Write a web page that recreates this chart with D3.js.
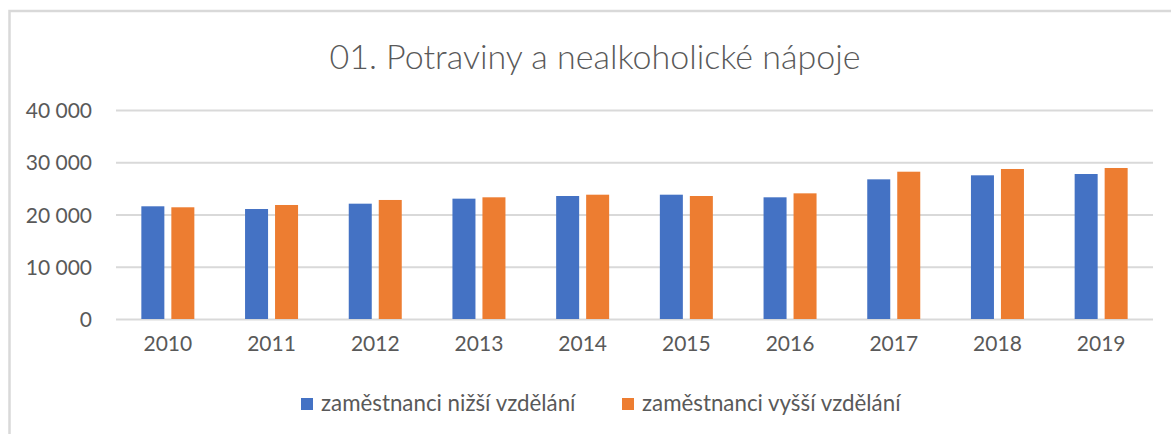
<!DOCTYPE html>
<html>
<head>
<meta charset="utf-8">
<script src="https://cdn.jsdelivr.net/npm/d3@7"></script>
<style>
  html, body { margin: 0; padding: 0; background: #fff; }
  text { font-family: Lato, "Liberation Sans", sans-serif; fill: #595959; }
</style>
</head>
<body>
<div id="chart"></div>
<script>
const title = '01. Potraviny a nealkoholické nápoje';
const years = ['2010', '2011', '2012', '2013', '2014', '2015', '2016', '2017', '2018', '2019'];
const seriesNames = ['zaměstnanci nižší vzdělání', 'zaměstnanci vyšší vzdělání'];
const lowerEdu = [21570, 21050, 22070, 23030, 23540, 23790, 23290, 26730, 27500, 27750];
const higherEdu = [21380, 21820, 22780, 23290, 23790, 23540, 24050, 28190, 28710, 28900];
const yTicks = [0, 10000, 20000, 30000, 40000];

const COLORS = ['#4472C4', '#ED7D31'];

const width = 1171;
const height = 434;
const plot = { left: 116, right: 1153, top: 110, bottom: 319 };

const czLocale = d3.formatLocale({ decimal: ',', thousands: '\u00a0', grouping: [3], currency: ['', ' Kč'] });
const fmt = czLocale.format(',d');

const svg = d3.select('#chart')
  .append('svg')
  .attr('width', width)
  .attr('height', height);

// chart frame (runs past the right and bottom edge of the shot)
svg.append('rect')
  .attr('x', 9.5)
  .attr('y', 11)
  .attr('width', 1200)
  .attr('height', 460)
  .attr('fill', '#fff')
  .attr('stroke', '#d9d9d9')
  .attr('stroke-width', 2.5);

const x = d3.scaleBand()
  .domain(years)
  .range([plot.left, plot.right]);

const x1 = d3.scaleBand()
  .domain(seriesNames)
  .range([0, x.bandwidth()])
  .paddingInner(0.233)
  .paddingOuter(0.845);

const y = d3.scaleLinear()
  .domain([0, 40000])
  .range([plot.bottom, plot.top]);

// gridlines + y labels
const yAxis = svg.append('g')
  .attr('transform', `translate(${plot.left},0)`)
  .call(d3.axisLeft(y)
    .tickValues(yTicks)
    .tickSize(-(plot.right - plot.left))
    .tickPadding(24)
    .tickFormat(fmt));
yAxis.select('.domain').remove();
yAxis.selectAll('.tick line')
  .attr('stroke', '#d9d9d9')
  .attr('stroke-width', 2);
yAxis.selectAll('.tick text')
  .attr('font-size', 21)
  .attr('dy', '0.36em');

// x labels
const xAxis = svg.append('g')
  .attr('transform', `translate(0,${plot.bottom})`)
  .call(d3.axisBottom(x).tickSize(0).tickPadding(24));
xAxis.select('.domain').remove();
xAxis.selectAll('.tick text')
  .attr('font-size', 21)
  .attr('dy', '0.36em');

// bars
const rows = years.map((yr, i) => ({ year: yr, values: [lowerEdu[i], higherEdu[i]] }));
svg.append('g')
  .selectAll('g')
  .data(rows)
  .enter()
  .append('g')
  .attr('transform', (d) => `translate(${x(d.year)},0)`)
  .selectAll('rect')
  .data((d) => d.values.map((v, k) => ({ key: seriesNames[k], value: v, k })))
  .enter()
  .append('rect')
  .attr('x', (d) => x1(d.key))
  .attr('width', x1.bandwidth())
  .attr('y', (d) => y(d.value))
  .attr('height', (d) => y(0) - y(d.value))
  .attr('fill', (d) => COLORS[d.k]);

// title
svg.append('text')
  .attr('x', 595)
  .attr('y', 69)
  .attr('text-anchor', 'middle')
  .attr('font-size', 34)
  .attr('font-weight', 300)
  .text(title);

// legend
const legendPos = [301, 622];
const legend = svg.append('g')
  .selectAll('g')
  .data(seriesNames)
  .enter()
  .append('g')
  .attr('transform', (d, i) => `translate(${legendPos[i]},398)`);
legend.append('rect')
  .attr('width', 12)
  .attr('height', 12)
  .attr('fill', (d, i) => COLORS[i]);
legend.append('text')
  .attr('x', 20)
  .attr('y', 13)
  .attr('font-size', 22.3)
  .text((d) => d);
</script>
</body>
</html>
